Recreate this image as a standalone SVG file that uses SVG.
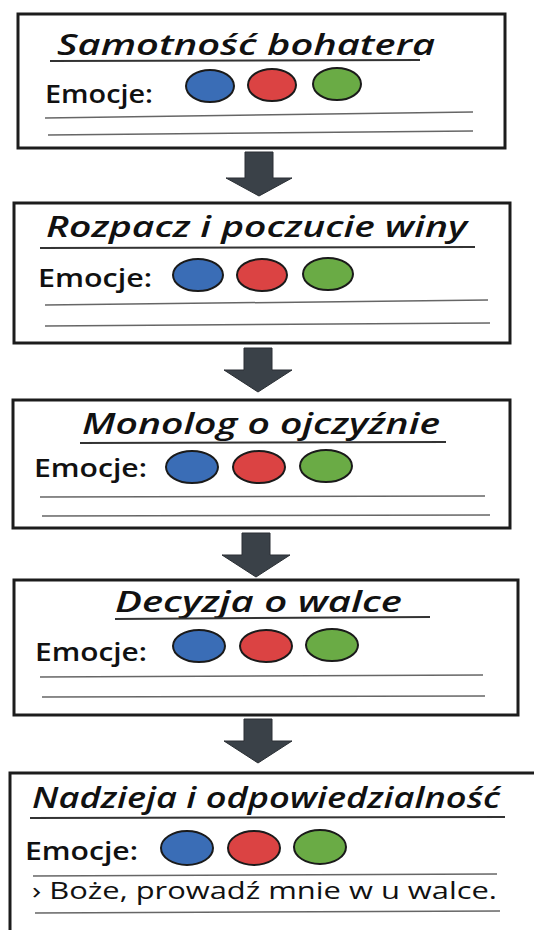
<svg xmlns="http://www.w3.org/2000/svg" width="534" height="930" viewBox="0 0 534 930">
<style>
.box{fill:#fff;stroke:#1c1c1c;stroke-width:3}
.title{font-family:"Open Sans","DejaVu Sans",sans-serif;font-style:italic;font-weight:600;font-size:28px;fill:#111}
.emo{font-family:"Open Sans","DejaVu Sans",sans-serif;font-weight:600;font-size:25px;fill:#111}
.quote{font-family:"Open Sans","DejaVu Sans",sans-serif;font-size:24px;fill:#111}
.ul{stroke:#333;stroke-width:2;fill:none}
.rule{stroke:#666;stroke-width:1.5;fill:none}
.c{stroke:#1a1a1a;stroke-width:2}
.b{fill:#3a6db6}
.r{fill:#db4343}
.g{fill:#6aab45}
.arrow{fill:#3a4148;stroke:#2a2f34;stroke-width:1}
</style>
<rect width="534" height="930" fill="#fff"/>

<g id="connectors">
<path class="arrow" d="M245,152 H273 V178 H292 L259,196 L226,178 H245 Z"/>
<path class="arrow" d="M244,348 H272 V370 H292 L258,392 L224,370 H244 Z"/>
<path class="arrow" d="M242,533 H270 V555 H290 L256,577 L222,555 H242 Z"/>
<path class="arrow" d="M244,719 H272 V741 H292 L258,763 L224,741 H244 Z"/>
</g>

<g id="node1">
<rect class="box" x="18" y="14" width="487" height="134"/>
<text class="title" x="57" y="55" textLength="378" lengthAdjust="spacingAndGlyphs">Samotność bohatera</text>
<path class="ul" d="M50,61 L420,60"/>
<text class="emo" x="45" y="103" textLength="108" lengthAdjust="spacingAndGlyphs">Emocje:</text>
<ellipse class="c b" cx="210" cy="86" rx="24" ry="16"/>
<ellipse class="c r" cx="272" cy="85" rx="24" ry="16"/>
<ellipse class="c g" cx="337" cy="84" rx="24" ry="16"/>
<path class="rule" d="M45,118 L473,112"/>
<path class="rule" d="M48,135 L473,131"/>
</g>

<g id="node2">
<rect class="box" x="14" y="203" width="496" height="140"/>
<text class="title" x="46" y="237" textLength="421" lengthAdjust="spacingAndGlyphs">Rozpacz i poczucie winy</text>
<path class="ul" d="M40,248 L475,247"/>
<text class="emo" x="38" y="287" textLength="114" lengthAdjust="spacingAndGlyphs">Emocje:</text>
<ellipse class="c b" cx="198" cy="275" rx="25" ry="16"/>
<ellipse class="c r" cx="262" cy="275" rx="25" ry="16"/>
<ellipse class="c g" cx="328" cy="274" rx="25" ry="16"/>
<path class="rule" d="M45,305 L488,300"/>
<path class="rule" d="M45,326 L490,323"/>
</g>

<g id="node3">
<rect class="box" x="13" y="400" width="497" height="128"/>
<text class="title" x="82" y="434" textLength="358" lengthAdjust="spacingAndGlyphs">Monolog o ojczyźnie</text>
<path class="ul" d="M80,443 L446,442"/>
<text class="emo" x="34" y="477" textLength="113" lengthAdjust="spacingAndGlyphs">Emocje:</text>
<ellipse class="c b" cx="192" cy="467" rx="26" ry="16"/>
<ellipse class="c r" cx="259" cy="467" rx="26" ry="16"/>
<ellipse class="c g" cx="326" cy="466" rx="26" ry="16"/>
<path class="rule" d="M40,497 L485,496"/>
<path class="rule" d="M42,516 L490,515"/>
</g>

<g id="node4">
<rect class="box" x="14" y="580" width="504" height="135"/>
<text class="title" x="115" y="612" textLength="287" lengthAdjust="spacingAndGlyphs">Decyzja o walce</text>
<path class="ul" d="M115,619 L430,617"/>
<text class="emo" x="35" y="661" textLength="112" lengthAdjust="spacingAndGlyphs">Emocje:</text>
<ellipse class="c b" cx="199" cy="646" rx="26" ry="16"/>
<ellipse class="c r" cx="266" cy="646" rx="26" ry="16"/>
<ellipse class="c g" cx="332" cy="645" rx="26" ry="16"/>
<path class="rule" d="M40,677 L483,675"/>
<path class="rule" d="M42,697 L485,696"/>
</g>

<g id="node5">
<rect class="box" x="10" y="773" width="540" height="180"/>
<text class="title" x="32" y="808" textLength="468" lengthAdjust="spacingAndGlyphs">Nadzieja i odpowiedzialność</text>
<path class="ul" d="M30,818 L505,817"/>
<text class="emo" x="25" y="860" textLength="113" lengthAdjust="spacingAndGlyphs">Emocje:</text>
<ellipse class="c b" cx="187" cy="848" rx="26" ry="17"/>
<ellipse class="c r" cx="254" cy="848" rx="26" ry="17"/>
<ellipse class="c g" cx="320" cy="847" rx="26" ry="17"/>
<path class="rule" d="M33,876 L497,874"/>
<text class="quote" x="32" y="899" textLength="465" lengthAdjust="spacingAndGlyphs">› Boże, prowadź mnie w u walce.</text>
<path class="rule" d="M35,913 L500,911"/>
</g>
</svg>
